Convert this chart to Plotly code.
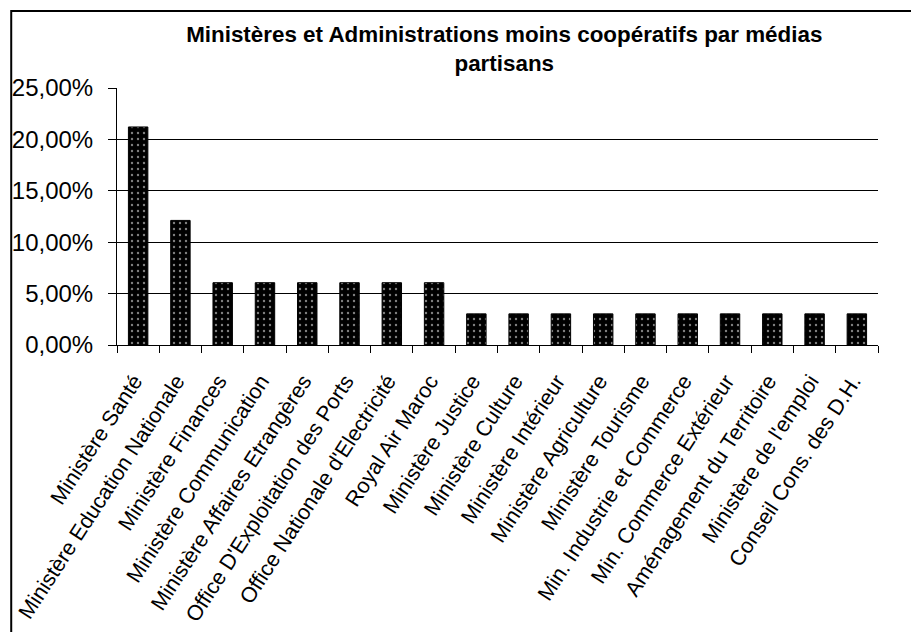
import plotly.graph_objects as go

categories = [
    "Ministère Santé",
    "Ministère Education Nationale",
    "Ministère Finances",
    "Ministère Communication",
    "Ministère Affaires Etrangères",
    "Office D'Exploitation des Ports",
    "Office Nationale d'Electricité",
    "Royal Air Maroc",
    "Ministère Justice",
    "Ministère Culture",
    "Ministère Intérieur",
    "Ministère Agriculture",
    "Ministère Tourisme",
    "Min. Industrie et Commerce",
    "Min. Commerce Extérieur",
    "Aménagement du Territoire",
    "Ministère de l'emploi",
    "Conseil Cons. des D.H.",
]
shares = [
    0.2121, 0.1212, 0.0606, 0.0606, 0.0606, 0.0606, 0.0606, 0.0606,
    0.0303, 0.0303, 0.0303, 0.0303, 0.0303, 0.0303, 0.0303, 0.0303,
    0.0303, 0.0303,
]
y_ticks = [0, 0.05, 0.10, 0.15, 0.20, 0.25]

fig = go.Figure(go.Bar(
    x=categories,
    y=shares,
    marker=dict(
        color="black",
        line=dict(color="black", width=1),
        pattern=dict(shape=".", fgcolor="white", bgcolor="black",
                     size=6, solidity=0.12),
    ),
))

# page body adds an 8px offset, so margins are shifted to compensate
fig.update_layout(
    width=919,
    height=632,
    margin=dict(l=109, r=49, t=80, b=295),
    paper_bgcolor="white",
    plot_bgcolor="white",
    separators=", ",
    font=dict(family="Arial, Liberation Sans, sans-serif", size=24, color="black"),
    title=dict(
        text="<b>Ministères et Administrations moins coopératifs par médias<br>partisans</b>",
        font=dict(size=22.4, color="black"),
        x=0.54, xanchor="center",
        y=0.946, yanchor="top",
    ),
    bargap=0.54,
    showlegend=False,
)

fig.update_xaxes(
    type="category",
    tickangle=-57,
    automargin=False,
    showline=True, linecolor="black", linewidth=1,
    ticks="outside", tickson="boundaries", ticklen=7, tickcolor="black",
    showgrid=False,
    tickfont=dict(size=21.5),
    ticklabelshift=-4,
    ticklabelstandoff=14,
)

fig.update_yaxes(
    range=[0, 0.25],
    tickvals=y_ticks,
    tickformat=".2%",
    automargin=False,
    showline=True, linecolor="black", linewidth=1,
    ticks="outside", ticklen=8, tickcolor="black",
    showgrid=True, gridcolor="black", gridwidth=1,
    zeroline=False,
    ticklabelstandoff=10,
)

# outer chart frame
fig.add_shape(
    type="rect", xref="paper", yref="paper",
    x0=-0.139, x1=1.08, y0=-1.2, y1=1.2996,
    line=dict(color="black", width=2),
    layer="below",
)

fig.write_html("out.html")
